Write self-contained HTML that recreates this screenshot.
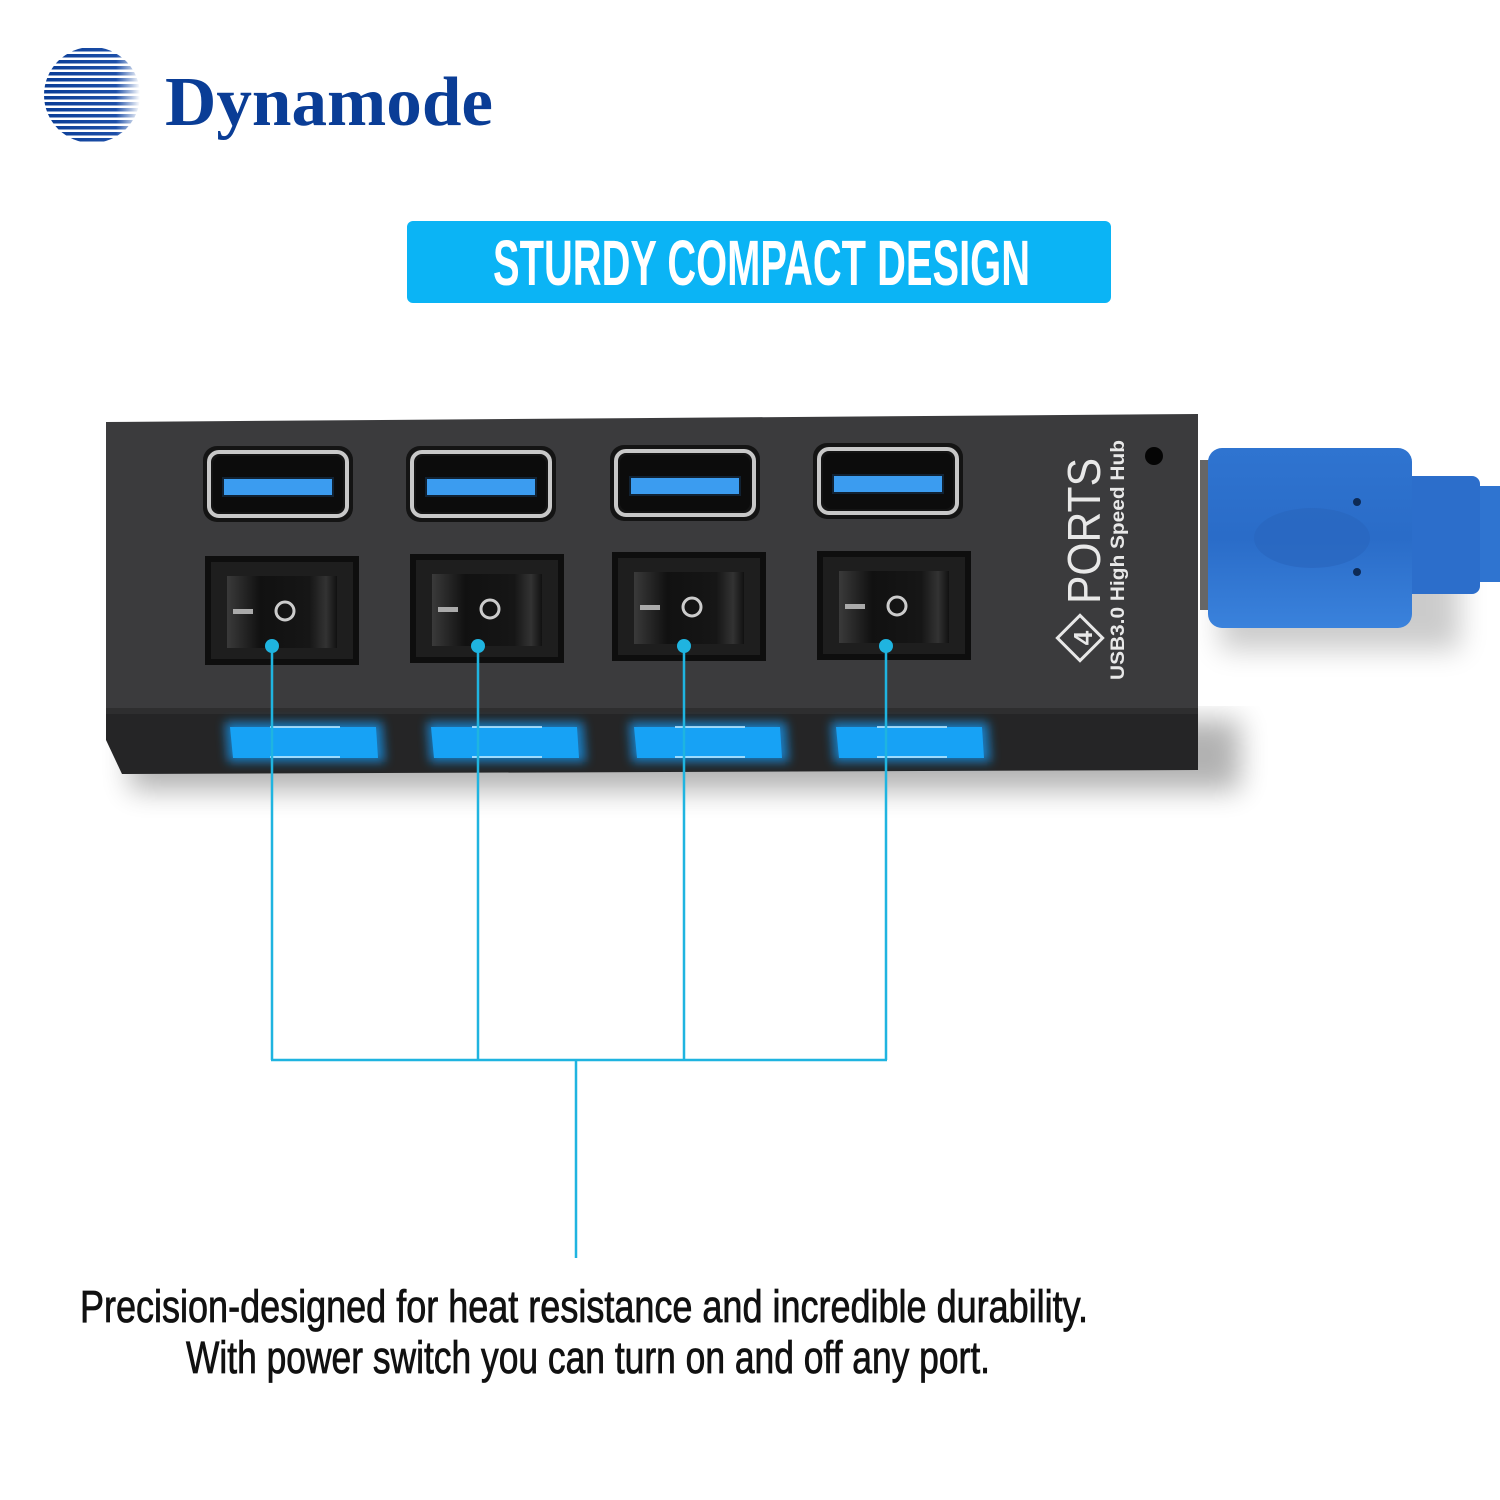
<!DOCTYPE html>
<html><head><meta charset="utf-8"><style>
html,body{margin:0;padding:0;background:#fff}
svg{display:block}
</style></head><body>
<svg width="1500" height="1500" viewBox="0 0 1500 1500" xmlns="http://www.w3.org/2000/svg">
<defs>
<filter id="sh" x="-10%" y="-20%" width="130%" height="160%"><feGaussianBlur stdDeviation="14"/></filter>
<filter id="gl" x="-20%" y="-100%" width="140%" height="300%"><feGaussianBlur stdDeviation="5"/></filter>
<clipPath id="cc"><circle cx="92" cy="95" r="48"/></clipPath>
<linearGradient id="rk" x1="0" x2="1"><stop offset="0" stop-color="#3a3a3a"/><stop offset="0.3" stop-color="#111"/><stop offset="0.75" stop-color="#161616"/><stop offset="0.9" stop-color="#333"/><stop offset="1" stop-color="#111"/></linearGradient>
<linearGradient id="stripe" x1="0" x2="1"><stop offset="0" stop-color="#0a3d96"/><stop offset="0.75" stop-color="#1d4fa8"/><stop offset="1" stop-color="#ffffff"/></linearGradient>
<linearGradient id="blu" x1="0" y1="0" x2="0" y2="1"><stop offset="0" stop-color="#2f74d0"/><stop offset="0.5" stop-color="#2a6cc8"/><stop offset="1" stop-color="#3a82dc"/></linearGradient>
</defs>
<rect width="1500" height="1500" fill="#fff"/>

<g clip-path="url(#cc)">
  <rect x="44" y="47" width="96" height="96" fill="#fff"/>
  <g fill="url(#stripe)">
    <rect x="44" y="48" width="96" height="3.5"/><rect x="44" y="54" width="96" height="3.5"/>
    <rect x="44" y="60" width="96" height="3.5"/><rect x="44" y="66" width="96" height="3.5"/>
    <rect x="44" y="72" width="96" height="3.5"/><rect x="44" y="78" width="96" height="3.5"/>
    <rect x="44" y="84" width="96" height="3.5"/><rect x="44" y="90" width="96" height="3.5"/>
    <rect x="44" y="96" width="96" height="3.5"/><rect x="44" y="102" width="96" height="3.5"/>
    <rect x="44" y="108" width="96" height="3.5"/><rect x="44" y="114" width="96" height="3.5"/>
    <rect x="44" y="120" width="96" height="3.5"/><rect x="44" y="126" width="96" height="3.5"/>
    <rect x="44" y="132" width="96" height="3.5"/><rect x="44" y="138" width="96" height="3.5"/>
  </g>
</g>
<text x="165" y="125" font-family="Liberation Serif, serif" font-weight="bold" font-size="70" fill="#0a3d96" textLength="328" lengthAdjust="spacingAndGlyphs">Dynamode</text>

<rect x="407" y="221" width="704" height="82" rx="6" fill="#0bb4f5"/>
<text x="493" y="285" font-family="Liberation Sans Narrow, Liberation Sans, sans-serif" font-weight="bold" font-size="64" fill="#fff" textLength="537" lengthAdjust="spacingAndGlyphs">STURDY COMPACT DESIGN</text>

<rect x="130" y="720" width="1110" height="70" fill="#000" opacity="0.3" filter="url(#sh)"/>
<rect x="1220" y="560" width="240" height="90" fill="#000" opacity="0.2" filter="url(#sh)"/>

<rect x="1440" y="486" width="70" height="96" fill="#2f74d0"/>
<rect x="1400" y="476" width="80" height="118" rx="8" fill="#2c6ecb"/>
<rect x="1200" y="460" width="14" height="150" fill="#666"/>
<rect x="1208" y="448" width="204" height="180" rx="14" fill="url(#blu)"/>
<ellipse cx="1312" cy="538" rx="58" ry="30" fill="#2a66bf" opacity="0.7"/>
<circle cx="1357" cy="502" r="4" fill="#0d2a55"/>
<circle cx="1357" cy="572" r="4" fill="#0d2a55"/>

<polygon points="106,422 1198,414 1198,712 106,712" fill="#3b3b3d"/>
<polygon points="106,712 1198,712 1198,770 122,774 106,740" fill="#252526"/>
<rect x="106" y="708" width="1092" height="6" fill="#2e2e2f"/>
<circle cx="1154" cy="456" r="9" fill="#050505"/>

<g>
  <g transform="translate(203,446)">
    <rect x="0" y="0" width="150" height="76" rx="14" fill="#141414"/>
    <rect x="6" y="6" width="138" height="64" rx="10" fill="none" stroke="#c8c8c8" stroke-width="4"/>
    <rect x="10" y="10" width="130" height="56" rx="8" fill="#0c0c0c"/>
    <rect x="20" y="32" width="110" height="18" fill="#3b9cf0" stroke="#123" stroke-width="2"/>
  </g>
  <g transform="translate(406,446)">
    <rect x="0" y="0" width="150" height="76" rx="14" fill="#141414"/>
    <rect x="6" y="6" width="138" height="64" rx="10" fill="none" stroke="#c8c8c8" stroke-width="4"/>
    <rect x="10" y="10" width="130" height="56" rx="8" fill="#0c0c0c"/>
    <rect x="20" y="32" width="110" height="18" fill="#3b9cf0" stroke="#123" stroke-width="2"/>
  </g>
  <g transform="translate(610,445)">
    <rect x="0" y="0" width="150" height="76" rx="14" fill="#141414"/>
    <rect x="6" y="6" width="138" height="64" rx="10" fill="none" stroke="#c8c8c8" stroke-width="4"/>
    <rect x="10" y="10" width="130" height="56" rx="8" fill="#0c0c0c"/>
    <rect x="20" y="32" width="110" height="18" fill="#3b9cf0" stroke="#123" stroke-width="2"/>
  </g>
  <g transform="translate(813,443)">
    <rect x="0" y="0" width="150" height="76" rx="14" fill="#141414"/>
    <rect x="6" y="6" width="138" height="64" rx="10" fill="none" stroke="#c8c8c8" stroke-width="4"/>
    <rect x="10" y="10" width="130" height="56" rx="8" fill="#0c0c0c"/>
    <rect x="20" y="32" width="110" height="18" fill="#3b9cf0" stroke="#123" stroke-width="2"/>
  </g>
</g>

<g>
  <g transform="translate(205,556)">
    <rect width="154" height="109" fill="#0e0e0e"/>
    <rect x="6" y="6" width="142" height="97" fill="#1e1e1e"/>
    <rect x="22" y="20" width="110" height="72" fill="url(#rk)"/>
    <rect x="28" y="53" width="20" height="5" fill="#aaa"/>
    <circle cx="80" cy="55" r="9" fill="none" stroke="#ccc" stroke-width="3"/>
  </g>
  <g transform="translate(410,554)">
    <rect width="154" height="109" fill="#0e0e0e"/>
    <rect x="6" y="6" width="142" height="97" fill="#1e1e1e"/>
    <rect x="22" y="20" width="110" height="72" fill="url(#rk)"/>
    <rect x="28" y="53" width="20" height="5" fill="#aaa"/>
    <circle cx="80" cy="55" r="9" fill="none" stroke="#ccc" stroke-width="3"/>
  </g>
  <g transform="translate(612,552)">
    <rect width="154" height="109" fill="#0e0e0e"/>
    <rect x="6" y="6" width="142" height="97" fill="#1e1e1e"/>
    <rect x="22" y="20" width="110" height="72" fill="url(#rk)"/>
    <rect x="28" y="53" width="20" height="5" fill="#aaa"/>
    <circle cx="80" cy="55" r="9" fill="none" stroke="#ccc" stroke-width="3"/>
  </g>
  <g transform="translate(817,551)">
    <rect width="154" height="109" fill="#0e0e0e"/>
    <rect x="6" y="6" width="142" height="97" fill="#1e1e1e"/>
    <rect x="22" y="20" width="110" height="72" fill="url(#rk)"/>
    <rect x="28" y="53" width="20" height="5" fill="#aaa"/>
    <circle cx="80" cy="55" r="9" fill="none" stroke="#ccc" stroke-width="3"/>
  </g>
</g>

<g>
  <polygon points="225,722 382,722 385,762 228,762" fill="#12a0ff" filter="url(#gl)" opacity="0.7"/>
  <polygon points="230,727 376,727 378,758 233,758" fill="#17a2f5"/>
  <polygon points="427,722 583,722 586,762 430,762" fill="#12a0ff" filter="url(#gl)" opacity="0.7"/>
  <polygon points="431,727 577,727 579,758 434,758" fill="#17a2f5"/>
  <polygon points="629,722 786,722 789,762 632,762" fill="#12a0ff" filter="url(#gl)" opacity="0.7"/>
  <polygon points="634,727 780,727 782,758 637,758" fill="#17a2f5"/>
  <polygon points="831,722 988,722 991,762 834,762" fill="#12a0ff" filter="url(#gl)" opacity="0.7"/>
  <polygon points="836,727 982,727 984,758 839,758" fill="#17a2f5"/>
  <g fill="#bfeaff" opacity="0.8">
    <rect x="270" y="726" width="70" height="2"/><rect x="270" y="756" width="70" height="2"/>
    <rect x="472" y="726" width="70" height="2"/><rect x="472" y="756" width="70" height="2"/>
    <rect x="675" y="726" width="70" height="2"/><rect x="675" y="756" width="70" height="2"/>
    <rect x="877" y="726" width="70" height="2"/><rect x="877" y="756" width="70" height="2"/>
  </g>
</g>

<g transform="translate(1100,680) rotate(-90)" fill="#e8e8e8">
  <g transform="translate(42,-20) rotate(45)"><rect x="-16" y="-16" width="32" height="32" fill="none" stroke="#e8e8e8" stroke-width="3"/></g>
  <text x="34" y="-8" font-family="Liberation Sans, sans-serif" font-size="26" font-weight="bold" text-anchor="middle" dx="8">4</text>
  <text x="76" y="0" font-family="Liberation Sans, sans-serif" font-size="46" textLength="146" lengthAdjust="spacingAndGlyphs">PORTS</text>
  <text x="0" y="24" font-family="Liberation Sans, sans-serif" font-size="19" font-weight="bold" textLength="240" lengthAdjust="spacingAndGlyphs">USB3.0 High Speed  Hub</text>
</g>

<g stroke="#1fb4e0" stroke-width="2.5" fill="none">
  <line x1="272" y1="646" x2="272" y2="1060"/>
  <line x1="478" y1="646" x2="478" y2="1060"/>
  <line x1="684" y1="646" x2="684" y2="1060"/>
  <line x1="886" y1="646" x2="886" y2="1060"/>
  <line x1="271" y1="1060" x2="887" y2="1060"/>
  <line x1="576" y1="1060" x2="576" y2="1258"/>
</g>
<g fill="#1fb4e0">
  <circle cx="272" cy="646" r="7"/><circle cx="478" cy="646" r="7"/>
  <circle cx="684" cy="646" r="7"/><circle cx="886" cy="646" r="7"/>
</g>

<text x="80" y="1322" font-family="Liberation Sans Narrow, Liberation Sans, sans-serif" font-size="45" fill="#111" stroke="#111" stroke-width="0.8" textLength="1008" lengthAdjust="spacingAndGlyphs">Precision-designed for heat resistance and incredible durability.</text>
<text x="186" y="1373" font-family="Liberation Sans Narrow, Liberation Sans, sans-serif" font-size="45" fill="#111" stroke="#111" stroke-width="0.8" textLength="804" lengthAdjust="spacingAndGlyphs">With power switch you can turn on and off any port.</text>
</svg>
</body></html>
